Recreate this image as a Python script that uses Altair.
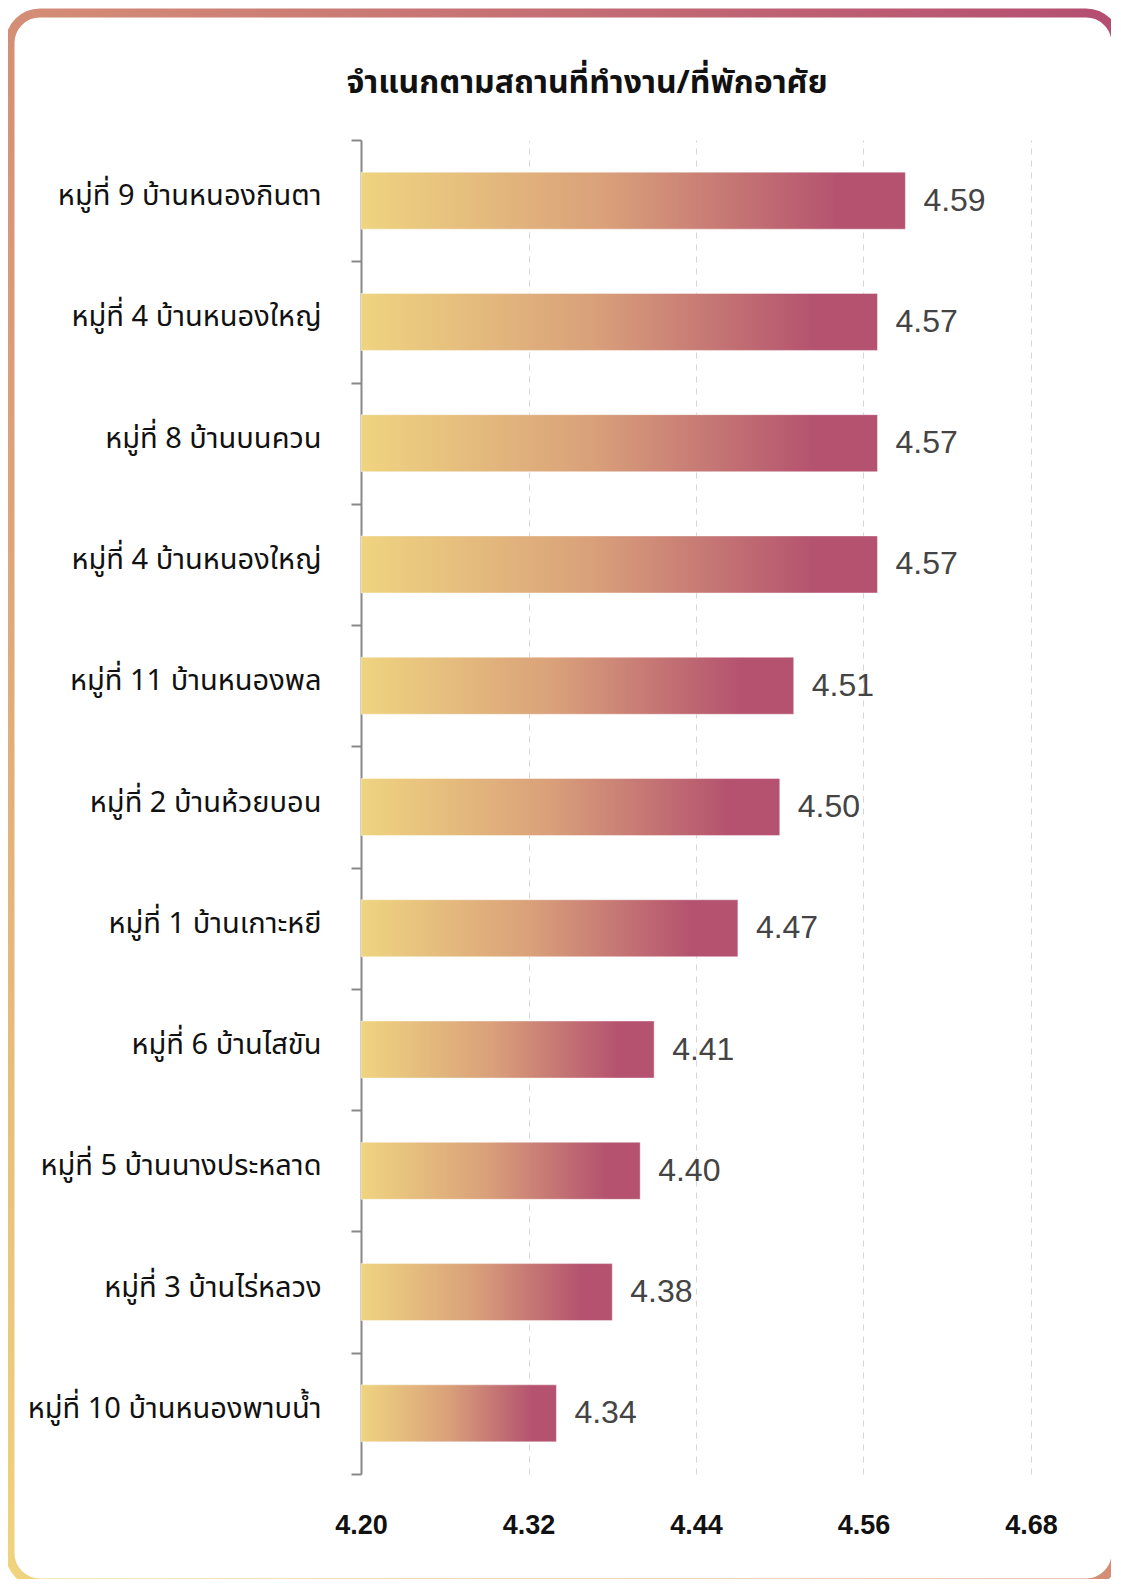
import altair as alt
import pandas as pd

names = [
    "หมู่ที่ 9 บ้านหนองกินตา",
    "หมู่ที่ 4 บ้านหนองใหญ่",
    "หมู่ที่ 8 บ้านบนควน",
    "หมู่ที่ 4 บ้านหนองใหญ่",
    "หมู่ที่ 11 บ้านหนองพล",
    "หมู่ที่ 2 บ้านห้วยบอน",
    "หมู่ที่ 1 บ้านเกาะหยี",
    "หมู่ที่ 6 บ้านไสขัน",
    "หมู่ที่ 5 บ้านนางประหลาด",
    "หมู่ที่ 3 บ้านไร่หลวง",
    "หมู่ที่ 10 บ้านหนองพาบน้ำ",
]
values = [4.59, 4.57, 4.57, 4.57, 4.51, 4.50, 4.47, 4.41, 4.40, 4.38, 4.34]
x_ticks = [4.20, 4.32, 4.44, 4.56, 4.68]
title_text = "จำแนกตามสถานที่ทำงาน/ที่พักอาศัย"

df = pd.DataFrame({"idx": list(range(len(names))), "name": names, "value": values})
label_expr = "[" + ",".join("'" + n + "'" for n in names) + "][datum.value]"

THAI = "Noto Sans Thai, Tahoma, Leelawadee UI, sans-serif"

bar_grad = {
    "gradient": "linear", "x1": 0, "y1": 0, "x2": 1, "y2": 0,
    "stops": [
        {"offset": 0, "color": "#efd480"},
        {"offset": 0.45, "color": "#d9a07a"},
        {"offset": 0.88, "color": "#b4526f"},
        {"offset": 1, "color": "#b4526f"},
    ],
}
border_grad = {
    "gradient": "linear", "x1": 0, "y1": 1, "x2": 1, "y2": 0,
    "stops": [
        {"offset": 0, "color": "#f0d47e"},
        {"offset": 0.5, "color": "#d48e76"},
        {"offset": 1, "color": "#b44e72"},
    ],
}

y_enc = alt.Y(
    "idx:O", sort=None, title=None,
    scale=alt.Scale(paddingInner=0, paddingOuter=0),
    axis=alt.Axis(
        labelExpr=label_expr, labelFont=THAI, labelFontSize=29, labelFontWeight="normal",
        labelColor="#111", labelLimit=500, labelOffset=-5,
        labelPadding=30, tickSize=10, tickWidth=2, tickColor="#888",
        domainColor="#888", domainWidth=2, tickBand="extent", grid=False,
    ),
)
x_enc = alt.X(
    "value:Q", title=None,
    scale=alt.Scale(domain=[4.20, 4.68], nice=False, zero=False),
    axis=alt.Axis(
        values=x_ticks, format=".2f", domain=False, ticks=False, labelFlush=False,
        labelFont="Liberation Sans", labelFontSize=27, labelFontWeight="bold",
        labelColor="#111", labelPadding=38,
        grid=True, gridDash=[6, 6], gridColor="#d6d6d6", gridWidth=1,
    ),
)

bars = alt.Chart(df).mark_bar(
    fill=bar_grad, stroke="#ffffff", strokeOpacity=0.4, strokeWidth=1, height={"band": 0.47}
).encode(x=x_enc, x2=alt.datum(4.20), y=y_enc)
labels = alt.Chart(df).mark_text(
    align="left", baseline="middle", dx=18, font="Liberation Sans", fontSize=32, color="#444"
).encode(x="value:Q", y=alt.Y("idx:O", sort=None), text=alt.Text("value:Q", format=".2f"))

one = pd.DataFrame({"k": [0]})
frame = alt.Chart(one).mark_rect(
    fill="transparent", stroke=border_grad, strokeWidth=9, cornerRadius=30
).encode(
    x=alt.value(-351), x2=alt.value(755), y=alt.value(-127), y2=alt.value(1443)
)
title = alt.Chart(one).mark_text(
    text=title_text, font=THAI, fontSize=32, fontWeight="bold", color="#111",
    align="center", baseline="middle",
).encode(x=alt.value(226), y=alt.value(-57))

chart = alt.layer(frame, bars, labels, title).properties(
    width=670, height=1334,
    padding={"left": 353, "top": 132, "right": 80, "bottom": 105},
    autosize=alt.AutoSizeParams(type="none"),
).configure_view(stroke=None)

chart.save("out.html", embed_options={"renderer": "svg", "actions": False})
